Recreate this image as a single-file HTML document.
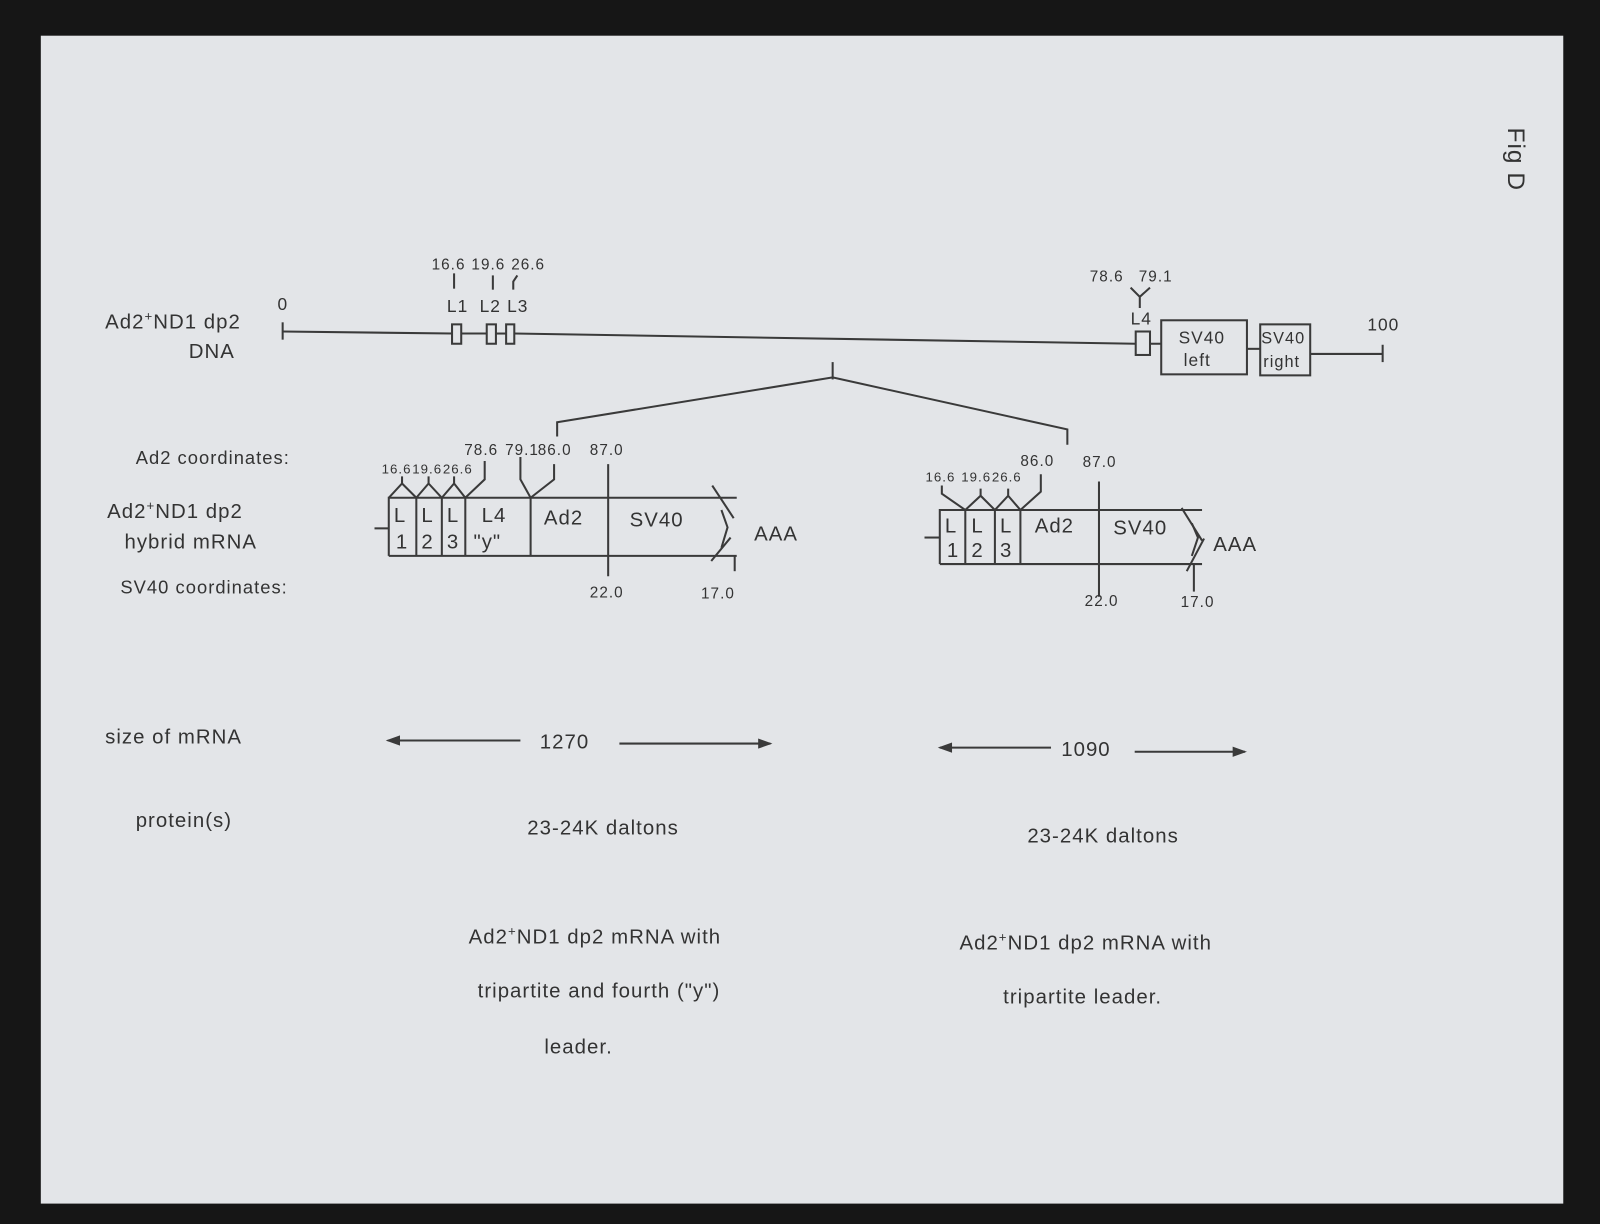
<!DOCTYPE html>
<html><head><meta charset="utf-8"><style>
html,body{margin:0;padding:0;background:#1a1a1a;}
svg{display:block}
text{font-family:"Liberation Sans",sans-serif;fill:#333;letter-spacing:1px}
</style></head><body>
<svg width="1600" height="1224" viewBox="0 0 1568 1200" preserveAspectRatio="none" xmlns="http://www.w3.org/2000/svg">
<rect x="0" y="0" width="1568" height="1200" fill="#161616"/>
<rect x="40" y="35" width="1492" height="1145" fill="#e3e5e8"/>
<g stroke="#3a3a3a" stroke-width="2" fill="none">
<line x1="277" y1="316" x2="277" y2="333"/>
<line x1="277" y1="325" x2="443" y2="327"/>
<rect x="443" y="318" width="9" height="19"/>
<line x1="452" y1="327" x2="477" y2="327"/>
<rect x="477" y="318" width="9" height="19"/>
<line x1="486" y1="327" x2="496" y2="327"/>
<rect x="496" y="318" width="8" height="19"/>
<line x1="504" y1="327" x2="1113" y2="337"/>
<rect x="1113" y="325" width="14" height="23"/>
<line x1="1127" y1="337" x2="1138" y2="337"/>
<rect x="1138" y="314" width="84" height="53"/>
<line x1="1222" y1="342" x2="1235" y2="342"/>
<rect x="1235" y="318" width="49" height="50"/>
<line x1="1284" y1="347" x2="1355" y2="347"/>
<line x1="1355" y1="338" x2="1355" y2="355"/>
<line x1="445" y1="268" x2="445" y2="283"/>
<line x1="483" y1="270" x2="483" y2="284"/>
<path d="M503 284 L503 276 L507 270"/>
<path d="M1108 282 L1117 291 L1127 282 M1117 291 L1117 302"/>
<line x1="816" y1="355" x2="816" y2="372"/>
<path d="M546 428 L546 414 L816 370 L1046 421 L1046 436"/>
<line x1="367" y1="518" x2="381" y2="518"/>
<path d="M381 545 L381 488 L722 488 M381 545 L722 545"/>
<line x1="408" y1="488" x2="408" y2="545"/>
<line x1="433" y1="488" x2="433" y2="545"/>
<line x1="456" y1="488" x2="456" y2="545"/>
<line x1="520" y1="488" x2="520" y2="545"/>
<line x1="596" y1="455" x2="596" y2="565"/>
<path d="M707 500 L713 517 L707 537"/>
<line x1="698" y1="476" x2="719" y2="508"/>
<line x1="697" y1="550" x2="716" y2="527"/>
<line x1="720" y1="545" x2="720" y2="560"/>
<path d="M381 488 L394 474 L408 488 M394 474 L394 467"/>
<path d="M408 488 L420 474 L433 488 M420 474 L420 467"/>
<path d="M433 488 L445 474 L456 488 M445 474 L445 467"/>
<path d="M456 488 L475 470 L475 452"/>
<path d="M510 448 L510 470 L520 488 L543 470 L543 455"/>
<line x1="906" y1="527" x2="921" y2="527"/>
<path d="M921 553 L921 500 L1178 500 M921 553 L1178 553"/>
<line x1="946" y1="500" x2="946" y2="553"/>
<line x1="975" y1="500" x2="975" y2="553"/>
<line x1="1000" y1="500" x2="1000" y2="553"/>
<line x1="1077" y1="472" x2="1077" y2="585"/>
<path d="M1168 513 L1174 527 L1168 545"/>
<line x1="1158" y1="498" x2="1178" y2="530"/>
<line x1="1180" y1="528" x2="1163" y2="560"/>
<line x1="1170" y1="553" x2="1170" y2="580"/>
<path d="M923 476 L923 484 L946 500"/>
<path d="M946 500 L961 486 L975 500 M961 486 L961 479"/>
<path d="M975 500 L988 486 L1000 500 M988 486 L988 479"/>
<path d="M1000 500 L1020 482 L1020 465"/>
<line x1="380" y1="726" x2="510" y2="726"/>
<line x1="607" y1="729" x2="755" y2="729"/>
<line x1="921" y1="733" x2="1030" y2="733"/>
<line x1="1112" y1="737" x2="1220" y2="737"/>
</g>
<g fill="#3a3a3a">
<path d="M378 726 L392 721 L392 731Z"/>
<path d="M757 729 L743 724 L743 734Z"/>
<path d="M919 733 L933 728 L933 738Z"/>
<path d="M1222 737 L1208 732 L1208 742Z"/>
</g>
<g font-size="20">
<text x="103" y="322">Ad2<tspan font-size="13" dy="-8">+</tspan><tspan dy="8">ND1 dp2</tspan></text>
<text x="185" y="351">DNA</text>
<text x="272" y="304" font-size="17">0</text>
<text x="1340" y="324" font-size="17">100</text>
<text x="1155" y="337" font-size="17">SV40</text>
<text x="1160" y="359" font-size="17">left</text>
<text x="1236" y="337" font-size="16" letter-spacing="0">SV40</text>
<text x="1238" y="360" font-size="16" letter-spacing="0">right</text>
<text x="133" y="455" font-size="18">Ad2 coordinates:</text>
<text x="105" y="508">Ad2<tspan font-size="13" dy="-8">+</tspan><tspan dy="8">ND1 dp2</tspan></text>
<text x="122" y="538">hybrid mRNA</text>
<text x="118" y="582" font-size="18">SV40 coordinates:</text>
<text x="103" y="729">size of mRNA</text>
<text x="133" y="811">protein(s)</text>
<text x="386" y="512">L</text><text x="388" y="538">1</text>
<text x="413" y="512">L</text><text x="413" y="538">2</text>
<text x="438" y="512">L</text><text x="438" y="538">3</text>
<text x="472" y="512">L4</text><text x="464" y="538">"y"</text>
<text x="533" y="514">Ad2</text>
<text x="617" y="516">SV40</text>
<text x="739" y="530">AAA</text>
<text x="926" y="522">L</text><text x="928" y="546">1</text>
<text x="952" y="522">L</text><text x="952" y="546">2</text>
<text x="980" y="522">L</text><text x="980" y="546">3</text>
<text x="1014" y="522">Ad2</text>
<text x="1091" y="524">SV40</text>
<text x="1189" y="540">AAA</text>
<text x="529" y="734">1270</text>
<text x="1040" y="741">1090</text>
<text x="591" y="818" text-anchor="middle">23-24K daltons</text>
<text x="1081" y="826" text-anchor="middle">23-24K daltons</text>
<text x="583" y="925" text-anchor="middle">Ad2<tspan font-size="13" dy="-8">+</tspan><tspan dy="8">ND1 dp2 mRNA with</tspan></text>
<text x="587" y="978" text-anchor="middle">tripartite and fourth ("y")</text>
<text x="567" y="1033" text-anchor="middle">leader.</text>
<text x="1064" y="931" text-anchor="middle">Ad2<tspan font-size="13" dy="-8">+</tspan><tspan dy="8">ND1 dp2 mRNA with</tspan></text>
<text x="1061" y="984" text-anchor="middle">tripartite leader.</text>
</g>
<g font-size="15" letter-spacing="0">
<text x="423" y="264">16.6</text><text x="462" y="264">19.6</text><text x="501" y="264">26.6</text>
<text x="438" y="306" font-size="17">L1</text><text x="470" y="306" font-size="17">L2</text><text x="497" y="306" font-size="17">L3</text>
<text x="1068" y="276">78.6</text><text x="1116" y="276">79.1</text>
<text x="1108" y="318" font-size="17">L4</text>
<text x="374" y="464" font-size="13">16.6</text><text x="404" y="464" font-size="13">19.6</text><text x="434" y="464" font-size="13">26.6</text>
<text x="455" y="446">78.6</text><text x="495" y="446">79.1</text><text x="527" y="446">86.0</text><text x="578" y="446">87.0</text>
<text x="578" y="586">22.0</text><text x="687" y="587">17.0</text>
<text x="907" y="472" font-size="13">16.6</text><text x="942" y="472" font-size="13">19.6</text><text x="972" y="472" font-size="13">26.6</text>
<text x="1000" y="457">86.0</text><text x="1061" y="458">87.0</text>
<text x="1063" y="594">22.0</text><text x="1157" y="595">17.0</text>
</g>
<text x="1478" y="125" font-size="24" transform="rotate(90 1478 125)" letter-spacing="2">Fig D</text>
</svg>
</body></html>
